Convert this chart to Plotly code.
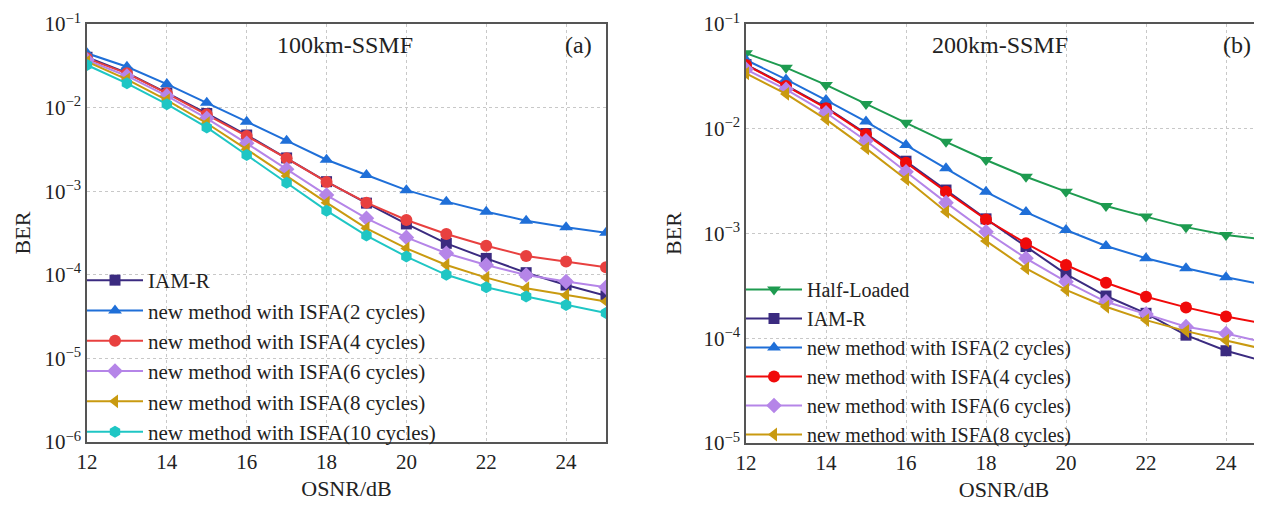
import plotly.graph_objects as go

osnr = [12, 13, 14, 15, 16, 17, 18, 19, 20, 21, 22, 23, 24, 25]

# (a) 100km-SSMF
a_iamr = [0.040, 0.026, 0.015, 0.0085, 0.0047, 0.0025, 0.00130, 0.00072, 0.000406, 0.000238, 0.000157, 0.000106, 7.55e-5, 5.6e-5]
a_c2 = [0.0446, 0.0308, 0.0191, 0.01146, 0.00679, 0.00402, 0.00238, 0.00156, 0.00103, 0.00075, 0.000569, 0.000444, 0.00037, 0.000319]
a_c4 = [0.0388, 0.0257, 0.0148, 0.0083, 0.00457, 0.00247, 0.00129, 0.00073, 0.000453, 0.000308, 0.000223, 0.000168, 0.000144, 0.000123]
a_c6 = [0.037, 0.0239, 0.0138, 0.00745, 0.00374, 0.00183, 0.0009, 0.000474, 0.00028, 0.000181, 0.000131, 9.95e-5, 8.3e-5, 7.1e-5]
a_c8 = [0.0354, 0.0218, 0.0123, 0.0065, 0.00317, 0.00152, 0.00073, 0.00036, 0.000207, 0.000131, 9.25e-5, 6.9e-5, 5.7e-5, 4.8e-5]
a_c10 = [0.0323, 0.0195, 0.011, 0.0058, 0.00271, 0.00126, 0.000585, 0.000295, 0.000165, 0.0001, 7.1e-5, 5.5e-5, 4.35e-5, 3.5e-5]

# (b) 200km-SSMF
b_half = [0.0525, 0.0383, 0.0262, 0.0172, 0.0114, 0.0075, 0.00503, 0.00348, 0.00251, 0.00183, 0.00145, 0.00115, 0.00097, 0.00087]
b_iamr = [0.041, 0.026, 0.016, 0.0090, 0.0049, 0.0026, 0.00138, 0.00075, 0.00041, 0.000253, 0.000173, 0.000107, 7.6e-5, 5.97e-5]
b_c2 = [0.0453, 0.0296, 0.0188, 0.0117, 0.00699, 0.00419, 0.0025, 0.0016, 0.00108, 0.00076, 0.00058, 0.000466, 0.000382, 0.000322]
b_c4 = [0.0406, 0.0256, 0.0157, 0.00885, 0.00474, 0.00251, 0.00136, 0.000805, 0.0005, 0.000339, 0.000249, 0.000197, 0.000161, 0.000137]
b_c6 = [0.0369, 0.0238, 0.0142, 0.00769, 0.00389, 0.00197, 0.00104, 0.00058, 0.000347, 0.000223, 0.00017, 0.000129, 0.000111, 9.06e-5]
b_c8 = [0.0338, 0.0215, 0.0123, 0.0065, 0.00329, 0.00161, 0.00085, 0.000464, 0.000289, 0.0002, 0.000149, 0.000117, 9.5e-5, 7.8e-5]

x_ticks = [12, 14, 16, 18, 20, 22, 24]
a_yticks = [1e-1, 1e-2, 1e-3, 1e-4, 1e-5, 1e-6]
a_yticktext = ["10<sup>−1</sup>", "10<sup>−2</sup>", "10<sup>−3</sup>", "10<sup>−4</sup>", "10<sup>−5</sup>", "10<sup>−6</sup>"]
b_yticks = [1e-1, 1e-2, 1e-3, 1e-4, 1e-5]
b_yticktext = ["10<sup>−1</sup>", "10<sup>−2</sup>", "10<sup>−3</sup>", "10<sup>−4</sup>", "10<sup>−5</sup>"]

FONT = "Liberation Serif"
PAD = 8                      # default page body margin
W, H = 1262 - PAD, 512 - PAD  # figure fits the window exactly


def fx(px):  # page px -> paper x
    return (px - PAD) / W


def fy(py):  # page px -> paper y
    return 1 - (py - PAD) / H


NAVY = "#3b2b80"
BLUE = "#1f6fd8"
RED_A = "#e8403f"
RED_B = "#f00a0a"
PURPLE = "#b585e8"
GOLD = "#c99a10"
CYAN = "#1fc6c4"
GREEN = "#1e9b50"

fig = go.Figure()


def add(x, y, name, color, symbol, xa, ya, legend, size=12):
    fig.add_trace(go.Scatter(
        x=x, y=y, name=name, mode="lines+markers",
        line=dict(color=color, width=2),
        marker=dict(symbol=symbol, size=size, color=color),
        xaxis=xa, yaxis=ya, legend=legend, legendgroup=name + legend,
    ))


add(osnr, a_iamr, "IAM-R", NAVY, "square", "x", "y", "legend", 11)
add(osnr, a_c2, "new method with ISFA(2 cycles)", BLUE, "triangle-up", "x", "y", "legend")
add(osnr, a_c4, "new method with ISFA(4 cycles)", RED_A, "circle", "x", "y", "legend")
add(osnr, a_c6, "new method with ISFA(6 cycles)", PURPLE, "diamond", "x", "y", "legend")
add(osnr, a_c8, "new method with ISFA(8 cycles)", GOLD, "triangle-left", "x", "y", "legend")
add(osnr, a_c10, "new method with ISFA(10 cycles)", CYAN, "hexagon", "x", "y", "legend")

add(osnr, b_half, "Half-Loaded", GREEN, "triangle-down", "x2", "y2", "legend2")
add(osnr, b_iamr, "IAM-R", NAVY, "square", "x2", "y2", "legend2", 11)
add(osnr, b_c2, "new method with ISFA(2 cycles)", BLUE, "triangle-up", "x2", "y2", "legend2")
add(osnr, b_c4, "new method with ISFA(4 cycles)", RED_B, "circle", "x2", "y2", "legend2")
add(osnr, b_c6, "new method with ISFA(6 cycles)", PURPLE, "diamond", "x2", "y2", "legend2")
add(osnr, b_c8, "new method with ISFA(8 cycles)", GOLD, "triangle-left", "x2", "y2", "legend2")

axcol = "#555555"
gridcol = "#c8c8c8"
tickfont = dict(family=FONT, size=21, color="#222")
titlefont = dict(family=FONT, size=22, color="#222")


def xaxis(domain, rng, anchor):
    return dict(domain=domain, range=rng, tickvals=x_ticks, showgrid=True,
                gridcolor=gridcol, griddash="dot", gridwidth=1,
                showline=True, linecolor=axcol, linewidth=1.5, mirror=True,
                ticks="", tickfont=tickfont, zeroline=False, automargin=False,
                anchor=anchor,
                title=dict(text="OSNR/dB", font=titlefont, standoff=8))


def yaxis(domain, rng, tv, tt, anchor, mirror, standoff):
    return dict(domain=domain, type="log", range=rng, tickvals=tv, ticktext=tt,
                showgrid=True, gridcolor=gridcol, griddash="dot", gridwidth=1,
                showline=True, linecolor=axcol, linewidth=1.5, mirror=mirror,
                ticks="", tickfont=tickfont, anchor=anchor, automargin=False,
                title=dict(text="BER", font=titlefont, standoff=standoff))


xa1 = xaxis([fx(87), fx(606)], [12, 25], "y")
xa2 = xaxis([fx(746), 1.0], [12, 12 + (1262 - 746) / 40.0], "y2")
ya1 = yaxis([fy(442), fy(24)], [-6, -1], a_yticks, a_yticktext, "x", True, 8)
ya2 = yaxis([fy(443), fy(24)], [-5, -1], b_yticks, b_yticktext, "x2", False, 16)

annfont = dict(family=FONT, size=24, color="#222")
fig.update_layout(
    width=W, height=H,
    margin=dict(l=0, r=0, t=0, b=0, autoexpand=False),
    paper_bgcolor="white", plot_bgcolor="white",
    xaxis=xa1, yaxis=ya1, xaxis2=xa2, yaxis2=ya2,
    legend=dict(x=fx(82), y=fy(260), xanchor="left", yanchor="top",
                bgcolor="rgba(0,0,0,0)", font=dict(family=FONT, size=21, color="#222"),
                itemwidth=56, traceorder="grouped", tracegroupgap=0),
    legend2=dict(x=fx(741), y=fy(270), xanchor="left", yanchor="top",
                 bgcolor="rgba(0,0,0,0)", font=dict(family=FONT, size=20, color="#222"),
                 itemwidth=56, traceorder="grouped", tracegroupgap=0),
    annotations=[
        dict(text="100km-SSMF", x=fx(345), y=fy(45), xref="paper", yref="paper",
             xanchor="center", yanchor="middle", showarrow=False, font=annfont),
        dict(text="(a)", x=fx(578), y=fy(45), xref="paper", yref="paper",
             xanchor="center", yanchor="middle", showarrow=False, font=annfont),
        dict(text="200km-SSMF", x=fx(1000), y=fy(45), xref="paper", yref="paper",
             xanchor="center", yanchor="middle", showarrow=False, font=annfont),
        dict(text="(b)", x=fx(1237), y=fy(45), xref="paper", yref="paper",
             xanchor="center", yanchor="middle", showarrow=False, font=annfont),
    ],
)

fig.write_html("out.html")
